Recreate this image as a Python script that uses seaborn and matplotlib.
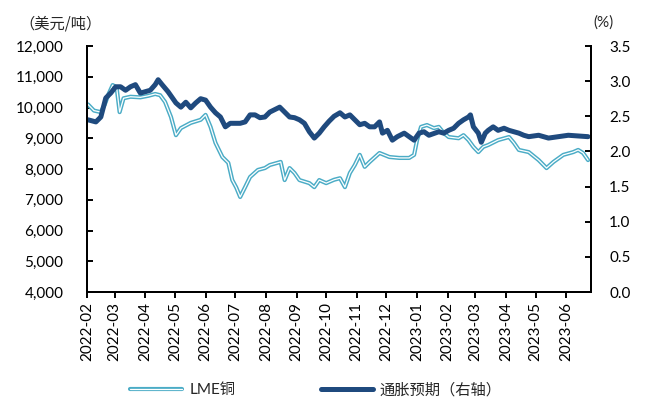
import matplotlib
matplotlib.use("Agg")
import matplotlib.pyplot as plt
import matplotlib.dates as mdates
import matplotlib.patheffects as pe
from matplotlib.ticker import FuncFormatter, FixedLocator
import pandas as pd
import seaborn as sns

# LME copper price (USD/t)
copper_dates = [
    "2022-02-02", "2022-02-08", "2022-02-15", "2022-02-19", "2022-02-23", "2022-02-27",
    "2022-03-03", "2022-03-06", "2022-03-10", "2022-03-17", "2022-03-27",
    "2022-04-04", "2022-04-11", "2022-04-16", "2022-04-21", "2022-04-27",
    "2022-05-02", "2022-05-07", "2022-05-17", "2022-05-27",
    "2022-06-01", "2022-06-06", "2022-06-11", "2022-06-18", "2022-06-24", "2022-06-28",
    "2022-07-02", "2022-07-06", "2022-07-11", "2022-07-16", "2022-07-24", "2022-07-31",
    "2022-08-05", "2022-08-16", "2022-08-20", "2022-08-25", "2022-08-30",
    "2022-09-04", "2022-09-14", "2022-09-19", "2022-09-24",
    "2022-10-01", "2022-10-09", "2022-10-15", "2022-10-20", "2022-10-25", "2022-10-30",
    "2022-11-04", "2022-11-09", "2022-11-14", "2022-11-24",
    "2022-12-04", "2022-12-14", "2022-12-24", "2022-12-29",
    "2023-01-01", "2023-01-05", "2023-01-11", "2023-01-18", "2023-01-23", "2023-01-28",
    "2023-02-02", "2023-02-12", "2023-02-17", "2023-02-22", "2023-02-27",
    "2023-03-04", "2023-03-09", "2023-03-14", "2023-03-24",
    "2023-04-04", "2023-04-09", "2023-04-14", "2023-04-24",
    "2023-05-04", "2023-05-12", "2023-05-19", "2023-05-29",
    "2023-06-08", "2023-06-13", "2023-06-18", "2023-06-23",
]
copper_values = [
    10100, 9900, 9850, 10100, 10450, 10730,
    10650, 9850, 10300, 10350, 10330,
    10380, 10440, 10400, 10180, 9690,
    9100, 9330, 9500, 9600,
    9760, 9370, 8850, 8390, 8200, 7640,
    7400, 7090, 7410, 7740, 7970, 8030,
    8130, 8230, 7640, 8030, 7870,
    7640, 7540, 7410, 7640,
    7540, 7650, 7700, 7410, 7870, 8130,
    8460, 8070, 8230, 8520,
    8390, 8360, 8360, 8460,
    8940, 9370, 9430, 9330, 9370, 9170,
    9040, 9000, 9100, 8940, 8720,
    8550, 8720, 8780, 8940,
    9040, 8850, 8620, 8550,
    8290, 8030, 8230, 8460,
    8550, 8620, 8520, 8290,
]

# Inflation expectations (%), right axis
infl_dates = [
    "2022-02-02", "2022-02-10", "2022-02-15", "2022-02-20", "2022-02-25",
    "2022-03-02", "2022-03-07", "2022-03-12", "2022-03-17", "2022-03-22", "2022-03-27",
    "2022-04-01", "2022-04-06", "2022-04-11", "2022-04-14", "2022-04-18", "2022-04-24",
    "2022-05-02", "2022-05-07", "2022-05-12", "2022-05-17", "2022-05-22", "2022-05-27",
    "2022-06-01", "2022-06-06", "2022-06-11", "2022-06-16", "2022-06-21", "2022-06-26",
    "2022-07-01", "2022-07-06", "2022-07-11", "2022-07-16", "2022-07-21", "2022-07-26", "2022-07-31",
    "2022-08-05", "2022-08-15", "2022-08-20", "2022-08-25", "2022-08-30",
    "2022-09-04", "2022-09-09", "2022-09-14", "2022-09-19", "2022-09-24", "2022-09-29",
    "2022-10-04", "2022-10-09", "2022-10-15", "2022-10-20", "2022-10-25", "2022-10-30",
    "2022-11-04", "2022-11-09", "2022-11-14", "2022-11-19", "2022-11-24", "2022-11-27",
    "2022-12-02", "2022-12-07", "2022-12-12", "2022-12-19", "2022-12-24", "2022-12-29",
    "2023-01-03", "2023-01-08", "2023-01-13", "2023-01-23", "2023-01-28",
    "2023-02-02", "2023-02-07", "2023-02-12", "2023-02-17", "2023-02-22", "2023-02-24", "2023-02-27",
    "2023-03-04", "2023-03-07", "2023-03-11", "2023-03-14", "2023-03-19", "2023-03-24", "2023-03-30",
    "2023-04-04", "2023-04-09", "2023-04-14", "2023-04-19", "2023-04-24",
    "2023-05-04", "2023-05-14", "2023-05-24",
    "2023-06-03", "2023-06-13", "2023-06-23",
]
infl_values = [
    2.45, 2.42, 2.49, 2.76, 2.83,
    2.92, 2.92, 2.87, 2.92, 2.95, 2.83,
    2.85, 2.87, 2.95, 3.02, 2.95, 2.85,
    2.69, 2.63, 2.70, 2.62, 2.69, 2.75,
    2.73, 2.63, 2.55, 2.49, 2.35, 2.40,
    2.40, 2.40, 2.42, 2.52, 2.52, 2.48, 2.49,
    2.56, 2.63, 2.56, 2.49, 2.48,
    2.45, 2.40, 2.28, 2.19, 2.26, 2.35,
    2.43, 2.50, 2.55, 2.49, 2.52, 2.45,
    2.38, 2.40, 2.35, 2.35, 2.42, 2.26,
    2.30, 2.16, 2.21, 2.26, 2.21, 2.16,
    2.26, 2.28, 2.23, 2.28, 2.26,
    2.30, 2.33, 2.40, 2.45, 2.49, 2.52, 2.35,
    2.26, 2.13, 2.26, 2.30, 2.35, 2.30, 2.33,
    2.30, 2.28, 2.26, 2.23, 2.21,
    2.23, 2.19, 2.21,
    2.23, 2.22, 2.21,
]

left_ticks = [4000, 5000, 6000, 7000, 8000, 9000, 10000, 11000, 12000]
right_ticks = [0.0, 0.5, 1.0, 1.5, 2.0, 2.5, 3.0, 3.5]
x_start, x_end = "2022-02-01", "2023-06-26"

copper_label = "LME铜"
infl_label = "通胀预期（右轴）"
left_unit = "（美元/吨）"
right_unit = "(%)"

copper_color = "#4BACC6"
infl_color = "#1F4A7E"

sns.set_theme(style="white")
plt.rcParams["font.family"] = ["Lato", "Noto Sans CJK SC", "DejaVu Sans"]
plt.rcParams["font.size"] = 11

copper_df = pd.DataFrame({"date": pd.to_datetime(copper_dates), "value": copper_values})
infl_df = pd.DataFrame({"date": pd.to_datetime(infl_dates), "value": infl_values})

fig = plt.figure(figsize=(6.47, 4.05), dpi=100)
ax = fig.add_axes([87 / 647, 1 - 292 / 405, (591 - 87) / 647, (292 - 46) / 405])
ax2 = ax.twinx()

sns.lineplot(data=copper_df, x="date", y="value", ax=ax, color="white",
             linewidth=0.9, label=copper_label, legend=False,
             path_effects=[pe.Stroke(linewidth=3.0, foreground=copper_color), pe.Normal()])
sns.lineplot(data=infl_df, x="date", y="value", ax=ax2, color=infl_color,
             linewidth=3.6, label=infl_label, legend=False)

ax.set_xlim(pd.Timestamp(x_start), pd.Timestamp(x_end))
ax.set_ylim(left_ticks[0], left_ticks[-1])
ax2.set_ylim(right_ticks[0], right_ticks[-1])
ax.yaxis.set_major_locator(FixedLocator(left_ticks))
ax.yaxis.set_major_formatter(FuncFormatter(lambda v, p: f"{int(v):,}"))
ax2.yaxis.set_major_locator(FixedLocator(right_ticks))
ax2.yaxis.set_major_formatter(FuncFormatter(lambda v, p: f"{v:.1f}"))
ax.xaxis.set_major_locator(mdates.MonthLocator())
ax.xaxis.set_major_formatter(mdates.DateFormatter("%Y-%m"))

for a in (ax, ax2):
    a.set_xlabel("")
    a.set_ylabel("")
    a.grid(False)
    for s in a.spines.values():
        s.set_color("black")
        s.set_linewidth(1.4)
    a.spines["top"].set_visible(False)

ax.tick_params(axis="y", which="major", direction="in", length=4, width=1.4,
               left=True, right=False, pad=17, labelsize=11, colors="black")
ax2.tick_params(axis="y", which="major", direction="in", length=4, width=1.4,
                right=True, left=False, pad=13, labelsize=11, colors="black")
ax.tick_params(axis="x", which="major", direction="out", length=4, width=1.4,
               bottom=True, pad=3, labelsize=11, colors="black", labelrotation=90)

fig.text(60 / 647, 1 - 24 / 405, left_unit, ha="center", va="center",
         fontsize=11, family=["Noto Sans CJK SC", "DejaVu Sans"])
fig.text(603 / 647, 1 - 23 / 405, right_unit, ha="center", va="center", fontsize=11)

handles = ax.get_lines()[:1] + ax2.get_lines()[:1]
fig.legend(handles, [copper_label, infl_label], loc="center",
           bbox_to_anchor=(316 / 647, 1 - 390 / 405), ncol=2, frameon=False,
           handlelength=3.4, handletextpad=0.45, columnspacing=5.6, fontsize=11)

fig.savefig("out.png", dpi=100)
